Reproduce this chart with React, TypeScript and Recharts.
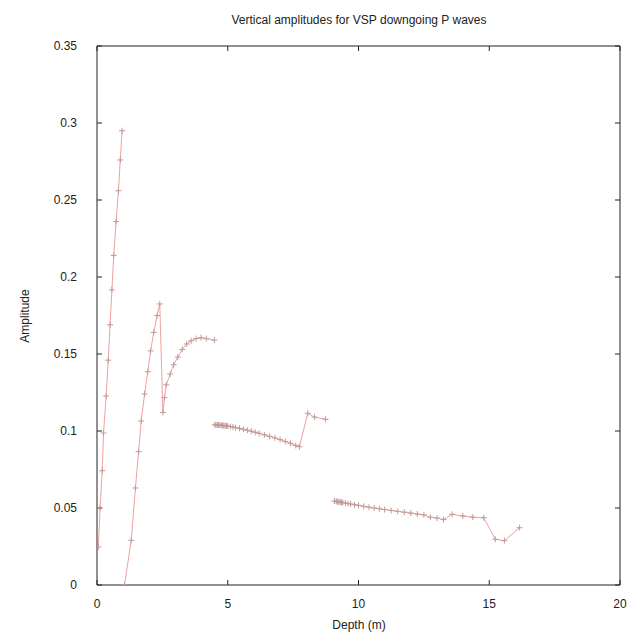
import { Line, LineChart, XAxis, YAxis } from "recharts";

// depth (m) / amplitude pairs, one array per receiver segment
const seg1X = [0.05, 0.12, 0.2, 0.25, 0.35, 0.43, 0.5, 0.57, 0.64, 0.73, 0.82, 0.89, 0.96];
const seg1Y = [0.0247, 0.05, 0.0742, 0.0987, 0.1227, 0.146, 0.169, 0.1916, 0.214, 0.236, 0.256, 0.276, 0.295];

const seg2X = [1.05, 1.31, 1.47, 1.59, 1.69, 1.82, 1.94, 2.05, 2.17, 2.3, 2.4, 2.52, 2.58, 2.65, 2.8, 2.93, 3.09, 3.26, 3.43, 3.6, 3.79, 3.98, 4.18, 4.49];
const seg2Y = [0.0, 0.029, 0.063, 0.0866, 0.1065, 0.124, 0.1385, 0.152, 0.164, 0.175, 0.1825, 0.112, 0.1216, 0.13, 0.137, 0.143, 0.148, 0.153, 0.1565, 0.1586, 0.16, 0.1606, 0.16, 0.159];

const seg3X = [4.5, 4.55, 4.6, 4.65, 4.7, 4.75, 4.8, 4.85, 4.9, 4.95, 5.0, 5.1, 5.2, 5.3, 5.45, 5.6, 5.75, 5.9, 6.05, 6.2, 6.4, 6.6, 6.8, 7.0, 7.2, 7.4, 7.6, 7.74, 8.06, 8.32, 8.74];
const seg3Y = [0.104, 0.104, 0.1039, 0.1039, 0.1038, 0.1037, 0.1036, 0.1035, 0.1034, 0.1033, 0.1032, 0.1029, 0.1026, 0.1022, 0.1017, 0.1011, 0.1005, 0.0999, 0.0992, 0.0985, 0.0975, 0.0965, 0.0955, 0.0944, 0.0932, 0.092, 0.0906, 0.0898, 0.1115, 0.109, 0.1076];

const seg4X = [9.08, 9.15, 9.2, 9.25, 9.3, 9.35, 9.4, 9.5, 9.6, 9.7, 9.85, 10.0, 10.2, 10.4, 10.6, 10.8, 11.0, 11.25, 11.5, 11.75, 12.0, 12.25, 12.5, 12.75, 13.0, 13.25, 13.58, 13.99, 14.37, 14.79, 15.23, 15.58, 16.16];
const seg4Y = [0.0545, 0.0543, 0.0541, 0.054, 0.0538, 0.0537, 0.0535, 0.0532, 0.0529, 0.0526, 0.0521, 0.0517, 0.0511, 0.0505, 0.05, 0.0495, 0.049, 0.0484, 0.0478, 0.0473, 0.0467, 0.0461, 0.0455, 0.044, 0.0435, 0.0425, 0.0459, 0.0448, 0.044, 0.0437, 0.0297, 0.0288, 0.0372];

const xTicks = [0, 5, 10, 15, 20];
const yTicks = [0, 0.05, 0.1, 0.15, 0.2, 0.25, 0.3, 0.35];

const segments = [
  [seg1X, seg1Y],
  [seg2X, seg2Y],
  [seg3X, seg3Y],
  [seg4X, seg4Y],
].map(([xs, ys]) => xs.map((x, i) => ({ x, y: ys[i] })));

const font = "'Liberation Sans', Arial, sans-serif";
const tickStyle = { fill: "#222", fontSize: 12, fontFamily: font };

const Cross = (props: any) => {
  const { cx, cy, index } = props;
  if (cx == null || cy == null) return <g key={index} />;
  return (
    <path
      key={index}
      d={`M${cx - 3},${cy}h6M${cx},${cy - 3}v6`}
      stroke="#c09a9a"
      strokeWidth={1}
      fill="none"
    />
  );
};

export default function App() {
  return (
    <div style={{ position: "absolute", left: 0, top: 0, background: "#fff" }}>
      <LineChart width={629} height={640} margin={{ top: 45, right: 8, bottom: 0, left: 37 }}>
        <XAxis
          xAxisId="b"
          type="number"
          dataKey="x"
          domain={[0, 20]}
          ticks={xTicks}
          allowDataOverflow
          stroke="#222"
          tickSize={-5}
          tickMargin={19}
          tick={tickStyle}
          height={55}
        />
        <XAxis
          xAxisId="t"
          orientation="top"
          type="number"
          dataKey="x"
          domain={[0, 20]}
          ticks={xTicks}
          allowDataOverflow
          stroke="#222"
          tickSize={-5}
          tickFormatter={() => ""}
          height={1}
        />
        <YAxis
          yAxisId="l"
          type="number"
          dataKey="y"
          domain={[0, 0.35]}
          ticks={yTicks}
          allowDataOverflow
          stroke="#222"
          tickSize={-5}
          tickMargin={25}
          tick={tickStyle}
          width={60}
        />
        <YAxis
          yAxisId="r"
          orientation="right"
          type="number"
          dataKey="y"
          domain={[0, 0.35]}
          ticks={yTicks}
          allowDataOverflow
          stroke="#222"
          tickSize={-5}
          tickFormatter={() => ""}
          width={1}
        />
        {/* invisible series so the mirrored frame axes are drawn */}
        <Line
          xAxisId="t"
          yAxisId="r"
          data={segments[3]}
          dataKey="y"
          stroke="none"
          dot={false}
          activeDot={false}
          isAnimationActive={false}
        />
        {segments.map((seg, i) => (
          <Line
            key={i}
            xAxisId="b"
            yAxisId="l"
            data={seg}
            dataKey="y"
            type="linear"
            stroke="#f0a0a0"
            strokeWidth={1}
            dot={Cross}
            activeDot={false}
            isAnimationActive={false}
          />
        ))}
        <text x={359} y={24} textAnchor="middle" fontSize={12} fontFamily={font} fill="#222">
          Vertical amplitudes for VSP downgoing P waves
        </text>
        <text x={359} y={629} textAnchor="middle" fontSize={12} fontFamily={font} fill="#222">
          Depth (m)
        </text>
        <text
          x={29}
          y={316}
          textAnchor="middle"
          fontSize={12}
          fontFamily={font}
          fill="#222"
          transform="rotate(-90 29 316)"
        >
          Amplitude
        </text>
      </LineChart>
    </div>
  );
}
